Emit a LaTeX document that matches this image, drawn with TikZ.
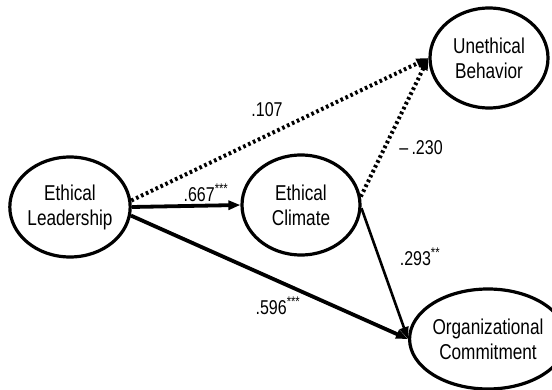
\documentclass[tikz,border=0pt]{standalone}
\usepackage{fontspec}
\setmainfont[FakeStretch=0.8]{Liberation Sans}
\usetikzlibrary{shapes.geometric,arrows.meta}
\begin{document}
\begin{tikzpicture}[x=1pt,y=-1pt,
  latent/.style={ellipse,draw,line width=3.2pt,minimum width=118pt,minimum height=100pt,inner sep=0pt,align=center,font=\fontsize{21.5}{25}\selectfont},
  lbl/.style={font=\fontsize{20}{23}\selectfont,inner sep=0pt},
  tip/.style={-{Triangle[length=12pt,width=9pt]}},
  thickpath/.style={line width=3.8pt,tip},
  thinpath/.style={line width=2.6pt,tip},
  dotpath/.style={line width=4pt,dash pattern=on 2.6pt off 2.8pt,tip}
]
\useasboundingbox (0,0) rectangle (552,390);
\node[latent] (L) at (70,207) {Ethical\\Leadership};
\node[latent] (C) at (301,205) {Ethical\\Climate};
\node[latent] (U) at (489,58) {Unethical\\Behavior};
\node[latent] (O) at (488,339) {Organizational\\Commitment};

\draw[thickpath] (L.east) -- (C.west);
\draw[thickpath] (L.-8) -- (O.west);
\draw[thinpath] (C.-3) -- (O.west);
\draw[dotpath] (L.6) -- (U.west);
\draw[dotpath] (C.8) -- (U.west);

\node[lbl] (l107) at (267,110) {.107};
\node[lbl] (l667) at (206,193) {.667\textsuperscript{***}};
\node[lbl] (l230) at (421,148) {\textendash\,.230};
\node[lbl] (l293) at (420,257) {.293\textsuperscript{**}};
\node[lbl] (l596) at (278,306) {.596\textsuperscript{***}};
\end{tikzpicture}
\end{document}
